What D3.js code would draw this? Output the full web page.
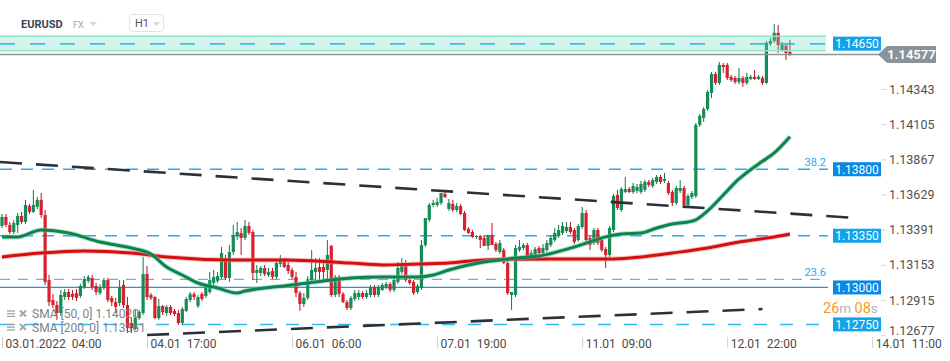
<!DOCTYPE html>
<html><head><meta charset="utf-8">
<script src="https://cdn.jsdelivr.net/npm/d3@7"></script>
<style>
body{margin:0;background:#fff;}
svg{display:block;font-family:Roboto,"Noto Sans",sans-serif;}
</style>
</head><body>
<svg id="c" width="950" height="361"></svg>
<script>
// ---------- DATA ----------
const symbol = "EURUSD", market = "FX", timeframe = "H1";
// hourly candles [open, high, low, close], starting 03.01.2022 04:00
const candles = [
[1.13416,1.13497,1.13402,1.13477],[1.13477,1.13497,1.13409,1.13423],[1.13423,1.13443,1.13362,1.13375],[1.13375,1.13457,1.13362,1.13436],
[1.13423,1.13504,1.13369,1.13484],[1.13484,1.13511,1.13430,1.13443],[1.13443,1.13592,1.13430,1.13558],[1.13551,1.13565,1.13497,1.13511],
[1.13511,1.13660,1.13504,1.13558],[1.13545,1.13612,1.13531,1.13592],[1.13592,1.13639,1.13470,1.13490],[1.13490,1.13524,1.13017,1.13037],
[1.13050,1.13084,1.12874,1.12901],[1.12915,1.12956,1.12861,1.12881],[1.12881,1.12908,1.12780,1.12827],[1.12827,1.12983,1.12807,1.12949],
[1.12935,1.12989,1.12915,1.12969],[1.12969,1.12989,1.12915,1.12935],[1.12956,1.12983,1.12915,1.12935],[1.12962,1.12989,1.12908,1.12929],
[1.12942,1.13023,1.12929,1.13010],[1.13003,1.13077,1.12989,1.13057],[1.13044,1.13084,1.13030,1.13071],[1.13064,1.13084,1.12983,1.13003],
[1.13010,1.13030,1.12949,1.12969],[1.12962,1.13023,1.12949,1.13003],[1.12996,1.13064,1.12983,1.13050],[1.13050,1.13064,1.12901,1.12915],
[1.12929,1.12942,1.12874,1.12901],[1.12901,1.12929,1.12827,1.12868],[1.12895,1.13050,1.12874,1.13003],[1.13017,1.13050,1.12861,1.12881],
[1.12881,1.12935,1.12692,1.12725],[1.12759,1.12793,1.12692,1.12725],[1.12719,1.12847,1.12712,1.12793],[1.12793,1.12847,1.12780,1.12834],
[1.12827,1.13206,1.12813,1.13091],[1.13091,1.13145,1.12915,1.12935],[1.12949,1.12962,1.12915,1.12929],[1.12935,1.12942,1.12786,1.12793],
[1.12793,1.12922,1.12780,1.12874],[1.12874,1.12881,1.12813,1.12834],[1.12827,1.12881,1.12807,1.12868],[1.12868,1.12881,1.12813,1.12827],
[1.12841,1.12854,1.12807,1.12820],[1.12827,1.12847,1.12746,1.12759],[1.12759,1.12868,1.12746,1.12854],[1.12841,1.12935,1.12834,1.12922],
[1.12915,1.12969,1.12901,1.12956],[1.12956,1.12969,1.12915,1.12935],[1.12874,1.12949,1.12861,1.12935],[1.12956,1.12969,1.12908,1.12922],
[1.12942,1.13010,1.12929,1.12996],[1.12969,1.13105,1.12956,1.13050],[1.13030,1.13118,1.13017,1.13071],[1.13044,1.13105,1.13030,1.13077],
[1.13071,1.13274,1.13057,1.13233],[1.13186,1.13220,1.13050,1.13064],[1.13064,1.13287,1.13037,1.13240],[1.13240,1.13423,1.13220,1.13355],
[1.13348,1.13443,1.13321,1.13375],[1.13369,1.13402,1.13220,1.13335],[1.13335,1.13457,1.13321,1.13416],[1.13416,1.13443,1.13355,1.13369],
[1.13375,1.13389,1.13050,1.13098],[1.13098,1.13152,1.13030,1.13118],[1.13098,1.13145,1.13077,1.13132],[1.13132,1.13152,1.13077,1.13091],
[1.13084,1.13132,1.13071,1.13105],[1.13111,1.13132,1.13057,1.13071],[1.13071,1.13186,1.13057,1.13165],[1.13159,1.13220,1.13138,1.13186],
[1.13186,1.13199,1.13132,1.13138],[1.13152,1.13172,1.13091,1.13111],[1.13118,1.13132,1.13057,1.13071],[1.13071,1.13105,1.12935,1.12962],
[1.12962,1.12976,1.12841,1.12888],[1.12888,1.12962,1.12868,1.12929],[1.12929,1.13077,1.12915,1.13050],[1.13050,1.13253,1.13037,1.13118],
[1.13105,1.13199,1.13030,1.13132],[1.13138,1.13199,1.13037,1.13105],[1.13138,1.13172,1.13037,1.13105],[1.13118,1.13321,1.13037,1.13220],
[1.13281,1.13287,1.12935,1.12949],[1.12949,1.13084,1.12935,1.13071],[1.13071,1.13084,1.12935,1.12956],[1.12956,1.12969,1.12895,1.12901],
[1.12901,1.12915,1.12847,1.12861],[1.12861,1.12942,1.12847,1.12929],[1.12922,1.12983,1.12908,1.12962],[1.12935,1.12983,1.12915,1.12962],
[1.12962,1.12976,1.12922,1.12935],[1.12935,1.12983,1.12922,1.12962],[1.12949,1.13017,1.12935,1.13003],[1.13003,1.13017,1.12935,1.12949],
[1.12949,1.13017,1.12935,1.13003],[1.12983,1.13030,1.12976,1.13017],[1.13003,1.13037,1.12989,1.13023],[1.13023,1.13037,1.12969,1.12983],
[1.12983,1.13064,1.12969,1.13050],[1.13037,1.13172,1.13023,1.13132],[1.13105,1.13199,1.13091,1.13152],[1.13165,1.13186,1.13037,1.13050],
[1.13050,1.13071,1.13017,1.13030],[1.13037,1.13050,1.12949,1.12962],[1.12969,1.13023,1.12956,1.13010],[1.12996,1.13321,1.12983,1.13287],
[1.13287,1.13470,1.13274,1.13470],[1.13457,1.13572,1.13443,1.13558],[1.13558,1.13592,1.13545,1.13572],[1.13558,1.13606,1.13545,1.13578],
[1.13572,1.13639,1.13558,1.13639],[1.13633,1.13646,1.13606,1.13612],[1.13531,1.13599,1.13518,1.13572],[1.13565,1.13592,1.13511,1.13524],
[1.13524,1.13572,1.13511,1.13551],[1.13551,1.13565,1.13490,1.13497],[1.13504,1.13518,1.13382,1.13389],[1.13396,1.13409,1.13362,1.13369],
[1.13375,1.13389,1.13335,1.13342],[1.13342,1.13355,1.13328,1.13348],[1.13348,1.13355,1.13267,1.13321],[1.13335,1.13348,1.13281,1.13281],
[1.13281,1.13355,1.13253,1.13355],[1.13355,1.13436,1.13287,1.13287],[1.13294,1.13308,1.13240,1.13253],[1.13240,1.13321,1.13226,1.13301],
[1.13253,1.13267,1.13159,1.13165],[1.13165,1.13186,1.12949,1.12962],[1.12949,1.12969,1.12847,1.12969],[1.12949,1.13287,1.12935,1.13267],
[1.13253,1.13321,1.13240,1.13274],[1.13267,1.13301,1.13253,1.13287],[1.13287,1.13301,1.13199,1.13206],[1.13213,1.13253,1.13199,1.13233],
[1.13220,1.13274,1.13206,1.13260],[1.13267,1.13281,1.13226,1.13233],[1.13233,1.13294,1.13220,1.13267],[1.13253,1.13321,1.13240,1.13301],
[1.13287,1.13348,1.13274,1.13335],[1.13321,1.13402,1.13308,1.13369],[1.13348,1.13423,1.13335,1.13389],[1.13369,1.13443,1.13355,1.13416],
[1.13382,1.13443,1.13369,1.13409],[1.13409,1.13443,1.13362,1.13375],[1.13389,1.13402,1.13294,1.13308],[1.13321,1.13430,1.13308,1.13416],
[1.13409,1.13545,1.13396,1.13504],[1.13504,1.13524,1.13308,1.13321],[1.13335,1.13348,1.13253,1.13287],[1.13301,1.13402,1.13287,1.13389],
[1.13389,1.13402,1.13287,1.13301],[1.13321,1.13335,1.13240,1.13253],[1.13260,1.13274,1.13132,1.13220],[1.13220,1.13416,1.13206,1.13402],
[1.13389,1.13633,1.13375,1.13619],[1.13626,1.13660,1.13524,1.13538],[1.13524,1.13680,1.13511,1.13666],[1.13646,1.13748,1.13639,1.13666],
[1.13666,1.13680,1.13639,1.13646],[1.13646,1.13707,1.13633,1.13687],[1.13653,1.13700,1.13639,1.13680],[1.13646,1.13721,1.13633,1.13700],
[1.13660,1.13727,1.13646,1.13714],[1.13714,1.13727,1.13680,1.13694],[1.13687,1.13741,1.13673,1.13727],[1.13714,1.13761,1.13700,1.13748],
[1.13748,1.13761,1.13700,1.13714],[1.13721,1.13775,1.13707,1.13734],[1.13707,1.13721,1.13626,1.13639],[1.13646,1.13660,1.13551,1.13572],
[1.13572,1.13687,1.13558,1.13673],[1.13653,1.13727,1.13639,1.13673],[1.13673,1.13687,1.13545,1.13558],[1.13558,1.13633,1.13545,1.13619],
[1.13612,1.13653,1.13599,1.13639],[1.13619,1.14113,1.13606,1.14100],[1.14100,1.14174,1.14086,1.14161],[1.14147,1.14222,1.14120,1.14208],
[1.14208,1.14337,1.14195,1.14323],[1.14316,1.14459,1.14283,1.14445],[1.14445,1.14459,1.14371,1.14384],[1.14384,1.14526,1.14371,1.14506],
[1.14506,1.14519,1.14452,1.14492],[1.14506,1.14519,1.14404,1.14418],[1.14425,1.14438,1.14391,1.14404],[1.14418,1.14431,1.14377,1.14391],
[1.14391,1.14486,1.14377,1.14418],[1.14418,1.14431,1.14357,1.14384],[1.14384,1.14452,1.14371,1.14425],[1.14411,1.14438,1.14404,1.14425],
[1.14425,1.14472,1.14404,1.14411],[1.14411,1.14438,1.14404,1.14425],[1.14418,1.14431,1.14371,1.14384],[1.14384,1.14668,1.14377,1.14655],
[1.14648,1.14689,1.14635,1.14668],[1.14668,1.14784,1.14655,1.14723],[1.14723,1.14777,1.14587,1.14641],[1.14607,1.14662,1.14594,1.14641],
[1.14635,1.14648,1.14540,1.14587],[1.14594,1.14675,1.14567,1.14577]
];
// moving averages sampled at candle indices
const sma50Idx = [0,4,10,17,25,33,38,42,46,50,55,60,62,67,72,80,89,97,106,110,114,119,123,127,131,137,146,150,154,158,163,167,171,175,177,180,184,188,193,197,201];
const sma50Val = [1.13342,1.13342,1.13389,1.13369,1.13308,1.13267,1.13226,1.13138,1.13084,1.13030,1.12996,1.12962,1.12976,1.12996,1.13010,1.13037,1.13064,1.13071,1.13071,1.13084,1.13118,1.13152,1.13172,1.13186,1.13199,1.13213,1.13274,1.13308,1.13342,1.13362,1.13369,1.13402,1.13430,1.13443,1.13457,1.13518,1.13626,1.13734,1.13836,1.13910,1.14020];
const sma200Idx = [0,10,21,33,42,59,72,80,89,97,106,114,123,140,148,156,163,171,180,188,197,201];
const sma200Val = [1.13206,1.13233,1.13247,1.13233,1.13206,1.13186,1.13186,1.13179,1.13165,1.13152,1.13159,1.13165,1.13186,1.13193,1.13193,1.13193,1.13206,1.13233,1.13267,1.13308,1.13342,1.13361];
// trend lines [candle index, price]
const trendUpper = [[-0.5,1.13849],[218,1.13470]];
const trendLower = [[37,1.12678],[194,1.12854]];
// horizontal levels
const zoneTop = 1.14700, zoneBottom = 1.14602;
const levelValues = [1.14650,1.13800,1.13350,1.13000,1.12750];
const fibValues = [1.13800,1.13055];
const fibLabels = ["38.2","23.6"];
const lastPrice = 1.14577;
const priceTicks = [1.12677,1.12915,1.13153,1.13391,1.13629,1.13867,1.14105,1.14343];
const timeTickIdx = [0,37,74,111,148,185,222];
const timeTickLabels = ["03.01.2022  04:00","04.01  17:00","06.01  06:00","07.01  19:00","11.01  09:00","12.01  22:00","14.01  11:00"];
const countdown = ["26","m ","08","s"];

// ---------- DRAW ----------
const svg = d3.select("#c");
const x = d3.scaleLinear().domain([0,222]).range([2,872.24]);
const y = d3.scaleLinear().domain([1.12915,1.14343]).range([300,89]);
const plotRight = 828;

// header
svg.append("text").attr("x",21).attr("y",28).attr("font-size",11).attr("font-weight",700).attr("fill","#3b4650").text(symbol);
svg.append("text").attr("x",73).attr("y",28).attr("font-size",9).attr("fill","#9aa5ad").text(market);
svg.append("path").attr("d","M89,22 L97,22 L93,26 Z").attr("fill","#d3d8db");
svg.append("rect").attr("x",129.5).attr("y",14.5).attr("width",34).attr("height",17).attr("rx",3).attr("fill","#fff").attr("stroke","#e2e2e2");
svg.append("text").attr("x",135).attr("y",27).attr("font-size",11).attr("fill","#555").text(timeframe);
svg.append("path").attr("d","M153,22 L160,22 L156.5,26 Z").attr("fill","#d3d8db");

// level lines
const levelDash = ["15,15","12,9","12,9",null,"13,13"];
const levelLineColor = ["#35b9f2","#29aaf0","#29aaf0","#2a8ee6","#35b9f2"];
const levelBoxColor = ["#12a3ea","#0a88e4","#12a3ea","#0a88e4","#12a3ea"];
levelValues.forEach((v,i)=>{
  svg.append("line").attr("x1",0).attr("x2",plotRight).attr("y1",y(v)).attr("y2",y(v))
    .attr("stroke",levelLineColor[i]).attr("stroke-width",i===3?1.2:1.5)
    .attr("stroke-dasharray",levelDash[i]);
});
// 23.6 fib dashed line
svg.append("line").attr("x1",0).attr("x2",plotRight).attr("y1",y(fibValues[1])).attr("y2",y(fibValues[1]))
  .attr("stroke","#4d9ee0").attr("stroke-width",1).attr("stroke-dasharray","10,8");
fibValues.forEach((v,i)=>{
  svg.append("text").attr("x",826).attr("y",y(v)-3).attr("text-anchor","end").attr("font-size",11)
    .attr("fill","#29a9ef").text(fibLabels[i]);
});

// candles
const cg = svg.append("g").selectAll("g").data(candles).join("g");
const up = d=>d[3]>=d[0];
cg.append("line").attr("x1",(d,i)=>x(i)).attr("x2",(d,i)=>x(i))
  .attr("y1",d=>y(d[1])).attr("y2",d=>y(d[2]))
  .attr("stroke",d=>up(d)?"#0d7a47":"#b5101d").attr("stroke-width",1);
cg.append("rect").attr("x",(d,i)=>x(i)-1.6).attr("width",3.2)
  .attr("y",d=>y(Math.max(d[0],d[3])))
  .attr("height",d=>Math.max(1,Math.abs(y(d[0])-y(d[3]))))
  .attr("fill",d=>up(d)?"#148c55":"#d8202e");

// moving averages
const line = d3.line().x(d=>x(d[0])).y(d=>y(d[1])).curve(d3.curveMonotoneX);
const s200 = sma200Idx.map((d,i)=>[d,sma200Val[i]]);
const s50 = sma50Idx.map((d,i)=>[d,sma50Val[i]]);
svg.append("path").attr("d",line(s200)).attr("fill","none").attr("stroke","#f08a8a").attr("stroke-width",5).attr("opacity",0.5);
svg.append("path").attr("d",line(s200)).attr("fill","none").attr("stroke","#d50f0f").attr("stroke-width",3);
svg.append("path").attr("d",line(s50)).attr("fill","none").attr("stroke","#7cc4a2").attr("stroke-width",5).attr("opacity",0.5);
svg.append("path").attr("d",line(s50)).attr("fill","none").attr("stroke","#0b8452").attr("stroke-width",3);

// trend lines
const tl = d3.line().x(d=>x(d[0])).y(d=>y(d[1]));
[trendUpper,trendLower].forEach(t=>{
  svg.append("path").attr("d",tl(t)).attr("fill","none").attr("stroke","#2b3136")
    .attr("stroke-width",2.6).attr("stroke-dasharray","22,14");
});

// zone overlay
svg.append("rect").attr("x",0).attr("width",826).attr("y",y(zoneTop)).attr("height",y(zoneBottom)-y(zoneTop))
  .attr("fill","rgb(110,218,184)").attr("opacity",0.3);
[zoneTop,zoneBottom].forEach(v=>svg.append("line").attr("x1",0).attr("x2",826).attr("y1",y(v)).attr("y2",y(v))
  .attr("stroke","#93e5ca").attr("stroke-width",1.5));
svg.append("line").attr("x1",0).attr("x2",plotRight).attr("y1",y(levelValues[0])).attr("y2",y(levelValues[0]))
  .attr("stroke","#35b9f2").attr("stroke-width",1.5).attr("stroke-dasharray","15,15").attr("opacity",0.85);

// countdown (just above the lowest level box)
const ct = svg.append("text").attr("x",823).attr("y",313).attr("font-size",14);
countdown.forEach((s,i)=>ct.append("tspan").attr("fill",i%2===0?"#f89a1c":"#b3b3b3").attr("font-size",i%2===0?14.5:13.5).text(s));

// level boxes
levelValues.forEach((v,i)=>{
  svg.append("rect").attr("x",833).attr("y",y(v)-7).attr("width",48).attr("height",14).attr("fill",levelBoxColor[i]);
  svg.append("text").attr("x",857).attr("y",y(v)+4.3).attr("text-anchor","middle").attr("font-size",12)
    .attr("fill","#fff").text(d3.format(".5f")(v));
});

// current price line + label
const yl = y(lastPrice);
svg.append("line").attr("x1",0).attr("x2",879).attr("y1",yl).attr("y2",yl).attr("stroke","#8d959b").attr("stroke-width",1.5);
svg.append("path").attr("d",`M878,${yl} L887,${yl-8.5} L936,${yl-8.5} L936,${yl+8.5} L887,${yl+8.5} Z`).attr("fill","#8a9399");
svg.append("text").attr("x",911.5).attr("y",yl+4.6).attr("text-anchor","middle").attr("font-size",13)
  .attr("font-weight",600).attr("fill","#fff").text(d3.format(".5f")(lastPrice));

// price axis
const ya = svg.append("g").attr("transform","translate(881,0)")
  .call(d3.axisRight(y).tickValues(priceTicks).tickSize(5).tickPadding(3).tickFormat(d3.format(".5f")));
ya.select(".domain").remove();
ya.selectAll("line").attr("stroke","#d5d5d5");
ya.selectAll("text").attr("font-size",12.5).attr("fill","#505050").attr("font-family","Roboto,sans-serif");
ya.selectAll(".tick").filter(d=>d===priceTicks[0]).select("text").attr("y",-5);

// time axis
const xa = svg.append("g").attr("transform","translate(0,337)")
  .call(d3.axisBottom(x).tickValues(timeTickIdx).tickSize(11).tickFormat((d,i)=>timeTickLabels[i]));
xa.select(".domain").remove();
xa.selectAll("line").attr("stroke","#cfcfcf");
xa.selectAll("text").attr("text-anchor","start").attr("x",3).attr("y",2).attr("dy","0.71em")
  .attr("font-size",12).attr("fill","#4a4a4a").attr("font-family","Roboto,sans-serif")
  .attr("xml:space","preserve").style("white-space","pre");

// legend
const legend = [["SMA [50, 0] ",sma50Val[sma50Val.length-1]],["SMA [200, 0] ",sma200Val[sma200Val.length-1]]];
legend.forEach((l,i)=>{
  const by = 318 + i*13.5;
  for(let k=0;k<3;k++) svg.append("line").attr("x1",7).attr("x2",15).attr("y1",by-7+k*2.7).attr("y2",by-7+k*2.7).attr("stroke","#9ea6ab").attr("stroke-width",1.3);
  svg.append("path").attr("d",`M20,${by-7.5} L26,${by-1.5} M26,${by-7.5} L20,${by-1.5}`).attr("stroke","#9ea6ab").attr("stroke-width",1.8);
  svg.append("text").attr("x",32).attr("y",by).attr("font-size",12).attr("fill","#7b848a")
    .text(l[0]+d3.format(".5f")(l[1]));
});
</script>
</body></html>
